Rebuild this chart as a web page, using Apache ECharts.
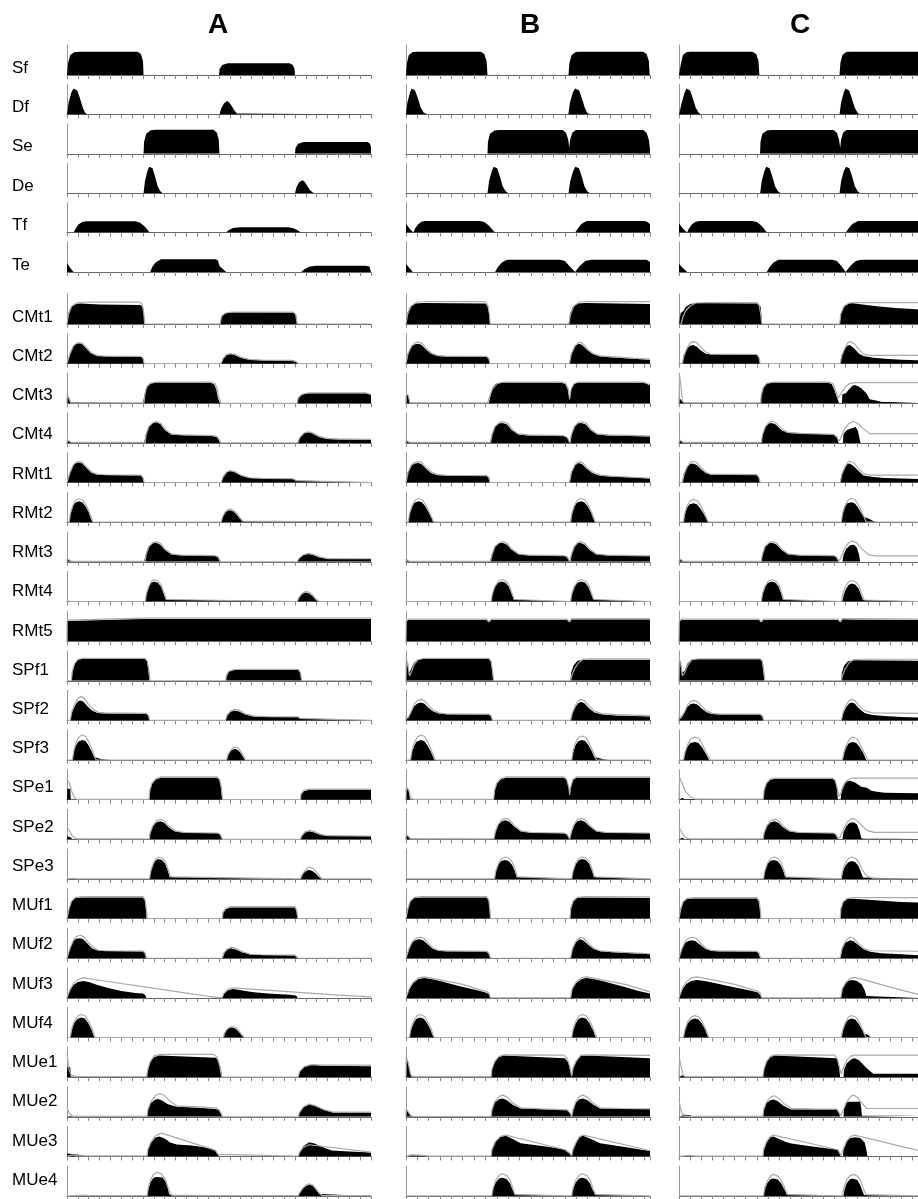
<!DOCTYPE html>
<html><head><meta charset="utf-8">
<script src="https://cdn.jsdelivr.net/npm/echarts@6/dist/echarts.min.js"></script>
<style>html,body{margin:0;padding:0;background:#fff;}#c{width:918px;height:1199px;}</style>
</head><body><div id="c"></div>
<script>
// ---------- labels ----------
const columnNames = ['A', 'B', 'C'];
const phaseRows = ['Sf', 'Df', 'Se', 'De', 'Tf', 'Te'];
const muscleRows = ['CMt1','CMt2','CMt3','CMt4','RMt1','RMt2','RMt3','RMt4','RMt5','SPf1','SPf2','SPf3','SPe1','SPe2','SPe3','MUf1','MUf2','MUf3','MUf4','MUe1','MUe2','MUe3','MUe4'];
const xMax = [28, 21.5, 21.5];   // time axis length (tick units) for A, B, C
const yMax = 30;

// ---------- phase rows (black only) ----------
const Sf_A = [[0,0],[0.1,12],[0.3,20],[0.7,23],[1.2,23.3],[6.5,23.3],[6.8,21],[7.0,14],[7.05,0],[14.0,0],[14.05,6],[14.3,10],[14.8,11.7],[20.5,11.7],[20.8,10],[20.95,6],[21.0,0],[28,0]];
const Sf_B = [[0,0],[0.08,12],[0.25,20],[0.6,23],[1.0,23.3],[6.6,23.3],[6.9,21],[7.1,14],[7.18,0],[14.32,0],[14.4,12],[14.6,20],[14.95,23],[15.3,23.3],[20.9,23.3],[21.2,21],[21.4,14],[21.47,0],[21.5,0]];
const Sf_C = [[0,0],[0.1,0],[0.18,12],[0.35,20],[0.7,23],[1.1,23.3],[6.6,23.3],[6.95,21],[7.15,14],[7.23,0],[14.44,0],[14.52,12],[14.7,20],[15.05,23],[15.4,23.3],[21.5,23.3]];
const Df_A = [[0,0],[0.15,12],[0.4,22],[0.6,26],[0.78,26.6],[0.95,24],[1.2,16],[1.45,7],[1.65,2],[1.86,0],[14.04,0],[14.2,6],[14.45,11],[14.75,13.3],[14.95,12],[15.2,8],[15.45,3.5],[15.65,1],[15.8,0],[28,0]];
const Df_B = [[0,0],[0.12,12],[0.35,22],[0.5,26],[0.62,26.7],[0.8,24],[1.05,16],[1.3,7],[1.55,2],[1.9,0],[14.3,0],[14.45,12],[14.7,22],[14.9,26],[15.06,26.7],[15.25,24],[15.5,16],[15.75,7],[15.95,2],[16.2,0],[21.5,0]];
const Df_C = [[0,0],[0.1,0],[0.25,12],[0.5,22],[0.68,26],[0.82,26.7],[1.0,24],[1.25,16],[1.5,7],[1.75,2],[2.0,0],[14.44,0],[14.58,12],[14.82,22],[14.98,26],[15.1,26.7],[15.3,24],[15.55,16],[15.8,7],[16.05,2],[16.26,0],[21.5,0]];
const Se_A = [[0,0],[7.05,0],[7.1,12],[7.3,20],[7.7,23.5],[8.2,24],[13.5,24],[13.8,21],[13.98,14],[14.04,0],[21.0,0],[21.05,6],[21.3,10],[21.8,11.7],[27.7,11.7],[27.9,10],[28,7]];
const Se_B = [[0,0],[7.18,0],[7.22,12],[7.4,20],[7.8,23.4],[8.2,23.7],[13.8,23.7],[14.1,21],[14.3,14],[14.38,6],[14.46,14],[14.65,21],[14.95,23.7],[20.9,23.7],[21.2,21],[21.4,14],[21.5,5]];
const Se_C = [[0,0],[7.29,0],[7.33,12],[7.5,20],[7.9,23.4],[8.3,23.7],[13.9,23.7],[14.2,21],[14.4,14],[14.5,6],[14.58,14],[14.76,21],[15.06,23.7],[21.5,23.7]];
const De_A = [[0,0],[7.05,0],[7.18,12],[7.4,22],[7.58,26.5],[7.7,27.3],[7.88,25],[8.1,17],[8.35,7],[8.6,2],[8.82,0],[21.0,0],[21.13,6],[21.38,11],[21.66,13],[21.85,12],[22.1,8],[22.35,3.5],[22.6,1],[22.8,0],[28,0]];
const De_B = [[0,0],[7.18,0],[7.32,12],[7.55,22],[7.73,26.5],[7.85,27.3],[8.03,25],[8.27,17],[8.52,7],[8.78,2],[9.03,0],[14.32,0],[14.47,12],[14.72,22],[14.92,26.5],[15.06,27.3],[15.24,25],[15.48,17],[15.72,7],[15.97,2],[16.2,0],[21.5,0]];
const De_C = [[0,0],[7.3,0],[7.44,12],[7.67,22],[7.85,26.5],[7.97,27.3],[8.15,25],[8.39,17],[8.64,7],[8.9,2],[9.15,0],[14.44,0],[14.58,12],[14.82,22],[15.02,26.5],[15.15,27.3],[15.33,25],[15.57,17],[15.82,7],[16.07,2],[16.3,0],[21.5,0]];
const Tf_A = [[0,0],[0.6,0],[0.8,4],[1.05,8],[1.4,10.5],[1.8,11.3],[6.3,11.3],[6.7,10],[7.1,6.5],[7.4,3],[7.6,0],[14.66,0],[14.9,2.5],[15.3,4.5],[15.9,5.3],[20.3,5.3],[20.8,4.5],[21.2,2.5],[21.56,0],[28,0]];
const Tf_B = [[0,9],[0.3,4],[0.65,0],[0.8,4],[1.05,8],[1.35,10.8],[1.7,11.7],[6.5,11.7],[6.9,10.5],[7.3,7],[7.6,3],[7.85,0],[14.9,0],[15.15,4],[15.45,8.5],[15.9,11.7],[21.0,11.7],[21.3,10.5],[21.5,8.3]];
const Tf_C = [[0,9],[0.35,4],[0.73,0],[0.9,4],[1.15,8],[1.5,10.8],[1.85,11.7],[6.6,11.7],[7.0,10.5],[7.4,7],[7.7,3],[7.9,0],[15.0,0],[15.25,4],[15.6,8.5],[16.1,11.7],[21.5,11.7]];
const Te_A = [[0,9],[0.3,4],[0.6,0],[7.66,0],[7.85,5],[8.15,9.5],[8.67,12.7],[13.7,12.7],[13.9,11.5],[14.05,6],[14.35,3],[14.66,0],[21.56,0],[21.9,3],[22.3,5.2],[22.9,6.3],[27.5,6.3],[27.85,5.5],[28,4.5]];
const Te_B = [[0,8.3],[0.3,4],[0.6,0],[7.85,0],[8.1,5],[8.45,9.5],[8.9,12.3],[13.6,12.3],[14.0,11],[14.4,6],[14.9,0],[15.3,6],[15.8,11],[16.3,12.3],[21.2,12.3],[21.5,10]];
const Te_C = [[0,8],[0.35,4],[0.73,0],[7.9,0],[8.15,5],[8.5,9.5],[8.95,12.3],[13.8,12.3],[14.2,11],[14.6,6],[15.0,0],[15.4,6],[15.9,11],[16.4,12.3],[21.5,12.3]];

// ---------- muscle rows: black = recorded, *_line = grey trace ----------
const CMt1_A = [[0,0],[0.1,10],[0.35,17],[0.8,20],[1.3,20.5],[3,19.5],[6.8,19],[7.0,16],[7.1,8],[7.15,0],[14.1,0],[14.2,7],[14.5,10.5],[15.2,11.7],[20.8,11.5],[21.1,9],[21.2,0],[28,0]];
const CMt1_A_line = [[0,0],[0.15,10],[0.45,18],[1.0,21.5],[2,22],[6.7,21.8],[6.95,19],[7.08,10],[7.15,0],[14.1,0],[14.25,8],[14.6,11],[15.2,12],[20.8,11.9],[21.05,10],[21.2,0],[28,0]];
const CMt1_B = [[0,0],[0.1,10],[0.35,17],[0.8,20.5],[1.5,21],[7.0,20.5],[7.25,17],[7.35,8],[7.4,0],[14.35,0],[14.45,10],[14.7,17],[15.1,20.5],[15.8,21],[21.5,20]];
const CMt1_B_line = [[0,0],[0.15,10],[0.45,18],[1.0,22],[2,22.5],[7.0,22.3],[7.2,19],[7.35,10],[7.42,0],[14.35,0],[14.5,10],[14.8,18],[15.3,22],[16,22.5],[21.5,22.3]];
const CMt1_C = [[0,0],[0.1,0],[0.15,11],[0.4,13],[0.6,17],[1.0,20],[1.6,21],[7.1,20.5],[7.35,17],[7.42,8],[7.48,0],[14.45,0],[14.55,10],[14.8,17],[15.2,20],[15.5,21],[16.5,19.5],[18,17.5],[19.5,16],[21,15],[21.5,14.5]];
const CMt1_C_line = [[0,0],[0.2,0],[0.35,7],[0.6,13],[1.0,18],[1.5,21],[2.5,21.3],[7.0,21.3],[7.2,19],[7.35,10],[7.45,0],[14.45,0],[14.55,10],[14.85,18],[15.3,21],[15.8,21.3],[21.5,21.3]];

const CMt2_A = [[0,0],[0.1,0],[0.25,10],[0.55,17],[0.85,20],[1.1,20.5],[1.4,19.5],[1.8,15],[2.2,10.5],[2.7,8],[3.5,7.3],[6.8,7.0],[7.0,5.5],[7.1,0],[14.2,0],[14.35,5],[14.65,8.5],[15.0,9.7],[15.4,9],[16.0,6],[16.8,4],[18,3.3],[20.8,3],[21.1,2],[21.3,0],[22,0],[22.1,0.4],[25,0.4],[25.1,0],[28,0]];
const CMt2_A_line = [[0,0],[0.1,0],[0.28,10],[0.6,18],[0.9,20.5],[1.15,21],[1.45,20],[1.85,15.5],[2.3,10.5],[2.8,8],[3.5,7.5],[6.8,7.3],[7.0,5.5],[7.12,0],[14.2,0],[14.38,5],[14.7,9],[15.05,10],[15.45,9.3],[16.05,6.3],[16.8,4.2],[18,3.5],[20.8,3.2],[21.1,2],[21.3,0],[28,0]];
const CMt2_B = [[0,0],[0.15,10],[0.45,17],[0.8,19.5],[1.06,20],[1.35,19],[1.75,14.5],[2.2,10],[2.7,7.8],[3.5,7.2],[7.1,6.8],[7.3,5],[7.4,0],[14.4,0],[14.55,10],[14.85,17],[15.2,20],[15.5,19],[15.9,14.5],[16.4,10],[17,7.5],[18,6.5],[20,5],[21.5,4]];
const CMt2_B_line = [[0,0],[0.18,10],[0.5,18],[0.85,21],[1.1,21.5],[1.4,20.5],[1.8,15],[2.3,10.2],[2.8,8],[3.5,7.5],[7.1,7.2],[7.3,5],[7.4,0],[14.4,0],[14.58,10],[14.9,18],[15.25,21.5],[15.55,20.5],[15.95,15],[16.5,10],[17.1,7.8],[18,7],[20,5.5],[21.5,4.6]];
const CMt2_C = [[0,0],[0.3,0],[0.4,8],[0.7,15],[1.0,18],[1.27,18.7],[1.6,17],[2.0,13],[2.4,10],[2.8,9.3],[7.0,9],[7.2,6],[7.3,0],[14.5,0],[14.62,8],[14.9,15],[15.15,18],[15.35,18.7],[15.7,16],[16.2,10],[16.6,7.7],[17.5,6],[18.5,5],[20,4],[21.5,3.3]];
const CMt2_C_line = [[0,0],[0.3,0],[0.45,8],[0.75,16],[1.05,21],[1.3,22],[1.6,21],[2.0,16],[2.4,11.5],[2.8,9.5],[7.0,9.2],[7.2,6],[7.3,0],[14.5,0],[14.65,8],[14.95,16],[15.2,21],[15.4,22],[15.75,20],[16.2,14],[16.6,9.5],[17.2,8.3],[21.5,8.3]];

const CMt3_A = [[0,0],[0.02,9.7],[0.2,9],[0.35,1],[0.5,0.3],[7.0,0.3],[7.1,0],[7.13,8],[7.3,16],[7.6,19.5],[8.2,20.7],[13.2,20.5],[13.55,19],[13.75,14],[13.9,5],[14.1,0],[21.2,0],[21.3,5],[21.6,8.5],[22.2,10],[27.5,10],[27.8,9],[28,8.5]];
const CMt3_A_line = [[0,0],[0.02,9],[0.2,8],[0.35,0.5],[7.1,0.5],[7.15,8],[7.35,16.5],[7.7,20.2],[8.3,21.3],[13.3,21.2],[13.65,19.5],[13.85,14],[14.0,5],[14.2,0],[21.2,0],[21.3,5.5],[21.65,9],[22.3,10.5],[27.5,10.5],[27.8,9.5],[28,9]];
const CMt3_B = [[0,0],[0.02,9],[0.2,8],[0.35,0.5],[7.3,0.3],[7.4,0],[7.45,8],[7.6,15],[7.9,19.5],[8.4,20.7],[13.7,20.5],[14.05,19],[14.25,14],[14.42,3],[14.55,14],[14.75,19],[15.1,20.7],[20.9,20.5],[21.2,19.5],[21.5,18]];
const CMt3_B_line = [[0,0],[0.02,9],[0.2,8],[0.35,0.5],[7.2,0.5],[7.35,6],[7.6,14],[8.0,19.5],[8.6,21.3],[13.8,21.2],[14.1,19.5],[14.3,14],[14.42,4],[14.55,14],[14.8,19.5],[15.2,21.3],[20.9,21.2],[21.2,20],[21.5,18.5]];
const CMt3_C = [[0,0],[0.05,5],[0.2,3],[0.4,0.5],[7.35,0.3],[7.38,8],[7.55,15],[7.85,19.5],[8.4,20.7],[13.4,20.5],[13.75,19],[13.95,14],[14.15,8],[14.4,0],[14.65,0],[14.7,9],[15.0,10],[15.3,14],[15.6,17.5],[15.83,18.3],[16.1,17],[16.4,15],[16.85,10],[17.15,4],[17.7,2.7],[18.3,1.3],[21.5,1]];
const CMt3_C_line = [[0,0],[0.05,28],[0.15,20],[0.3,2],[0.5,0.5],[7.35,0.5],[7.4,8],[7.6,16],[7.9,20],[8.5,21.2],[13.5,21.2],[13.85,19.5],[14.05,14],[14.3,5],[14.45,5],[14.7,12],[15.0,17],[15.4,20],[15.9,20.7],[21.5,20.7]];

const CMt4_A = [[0,0],[0.02,3],[0.2,1],[0.4,0.3],[7.1,0.3],[7.2,0],[7.25,8],[7.5,16],[7.9,20],[8.2,20.7],[8.6,19],[9.0,13],[9.6,8.5],[10.5,7.8],[13.4,7],[13.8,6],[14.0,3],[14.1,0],[21.25,0],[21.4,5],[21.8,9.5],[22.2,10.7],[22.6,9.5],[23.2,6],[23.9,4],[25,3.5],[28,3.2]];
const CMt4_A_line = [[0,0],[0.02,3],[0.2,1],[0.4,0.5],[7.2,0.5],[7.28,8],[7.55,16.5],[7.95,20.5],[8.25,21.3],[8.65,19.5],[9.05,13.5],[9.6,9],[10.5,8],[13.4,7.3],[13.8,6.3],[14.05,3],[14.15,0],[21.25,0],[21.42,5],[21.85,10],[22.25,11.2],[22.65,10],[23.25,6.5],[23.9,4.5],[25,4],[28,3.6]];
const CMt4_B = [[0,0],[0.02,3],[0.2,1],[0.4,0.3],[7.4,0.3],[7.5,0],[7.55,8],[7.8,16],[8.2,19.5],[8.5,20],[8.9,18.5],[9.3,13],[9.9,8.5],[10.8,7.5],[13.9,6.8],[14.2,5.5],[14.45,0],[14.55,8],[14.8,16],[15.15,19.5],[15.45,20],[15.85,18.5],[16.25,13],[16.85,8.5],[17.8,7.5],[21.5,6.5]];
const CMt4_B_line = [[0,0],[0.02,3],[0.2,1],[0.4,0.5],[7.45,0.5],[7.58,8],[7.85,16.5],[8.25,20.5],[8.55,21.2],[8.95,19.5],[9.35,13.5],[9.9,9],[10.8,8],[13.9,7.2],[14.2,5.7],[14.45,0],[14.57,8],[14.85,16.5],[15.2,20.5],[15.5,21.2],[15.9,19.5],[16.3,13.5],[16.85,9],[17.8,8],[21.5,7]];
const CMt4_C = [[0,0],[0.05,3],[0.2,1],[0.4,0.3],[7.4,0.3],[7.44,0],[7.5,8],[7.75,16],[8.1,19.5],[8.33,20],[8.7,18.5],[9.2,13],[9.8,10],[11,9.3],[13.9,8.3],[14.2,6],[14.36,0],[14.74,0],[14.8,9],[15.1,13],[15.5,14.5],[15.9,16],[16.1,12],[16.33,0],[21.5,0]];
const CMt4_C_line = [[0,0],[0.05,3],[0.2,1],[0.4,0.5],[7.42,0.5],[7.5,8],[7.78,16.5],[8.1,20.5],[8.4,21.7],[8.75,19.5],[9.25,14],[9.8,10.5],[11,9.6],[13.9,8.6],[14.2,6],[14.4,2],[14.55,5],[14.85,13],[15.25,19],[15.68,21.7],[16.1,19.5],[16.6,14],[17.15,9.3],[21.5,9.3]];

const RMt1_A = [[0,0],[0.1,0],[0.25,10],[0.55,17],[0.85,19.5],[1.1,20],[1.4,19],[1.8,14.5],[2.2,10],[2.7,8],[3.5,7.5],[6.8,7.2],[7.0,5],[7.1,0],[14.2,0],[14.35,5.5],[14.65,10],[15.0,11.5],[15.4,10.5],[16.0,7],[16.8,4.5],[18,4],[20.8,3.7],[21.1,2],[21.25,0],[28,0]];
const RMt1_A_line = [[0,0],[0.1,0],[0.28,10],[0.6,18],[0.9,20.5],[1.15,21],[1.45,20],[1.85,15],[2.3,10.5],[2.8,8.3],[3.5,7.8],[6.8,7.5],[7.0,5],[7.12,0],[14.2,0],[14.38,5.5],[14.7,10.5],[15.05,12],[15.45,11],[16.05,7.3],[16.8,4.8],[18,4.2],[20.8,3.9],[21.1,2],[21.25,0],[28,0]];
const RMt1_B = [[0,0],[0.15,10],[0.45,17],[0.8,19],[1.06,19.5],[1.35,18.5],[1.75,14],[2.2,9.5],[2.7,7.5],[3.5,7],[7.1,6.8],[7.3,5],[7.4,0],[14.4,0],[14.55,10],[14.85,17],[15.2,19.5],[15.5,18.5],[15.9,14],[16.4,9.5],[17,7],[18,6],[20,5],[21.5,4]];
const RMt1_B_line = [[0,0],[0.18,10],[0.5,18],[0.85,20.5],[1.1,21],[1.4,20],[1.8,14.5],[2.3,10],[2.8,8],[3.5,7.3],[7.1,7],[7.3,5],[7.4,0],[14.4,0],[14.58,10],[14.9,18],[15.25,21],[15.55,20],[15.95,14.5],[16.5,10],[17.1,7.5],[18,6.5],[20,5.3],[21.5,4.4]];
const RMt1_C = [[0,0],[0.3,0],[0.4,8],[0.7,15],[1.0,18.5],[1.25,19],[1.6,17.5],[2.0,13],[2.4,9.5],[2.8,8],[7.0,7.5],[7.2,5],[7.3,0],[14.5,0],[14.62,8],[14.9,15],[15.15,18.5],[15.35,19],[15.7,16.5],[16.2,11],[16.6,7],[17.5,5.5],[18.5,4.5],[20,4],[21.5,3.5]];
const RMt1_C_line = [[0,0],[0.3,0],[0.45,8],[0.75,16],[1.05,20.5],[1.3,21.3],[1.6,20],[2.0,15],[2.4,10.5],[2.8,8.5],[7.0,8],[7.2,5],[7.3,0],[14.5,0],[14.65,8],[14.95,16],[15.2,20.5],[15.4,21.3],[15.75,19.5],[16.2,13.5],[16.6,9],[17.2,7.5],[21.5,7.5]];

const RMt2_A = [[0,0],[0.2,0],[0.3,8],[0.5,15],[0.75,19.5],[1.1,21],[1.4,20],[1.7,16],[2.0,10],[2.2,4],[2.35,0],[14.2,0],[14.32,5],[14.55,9.5],[14.8,11.5],[15.0,12],[15.3,11],[15.6,8],[15.9,4],[16.15,1],[16.3,0],[28,0]];
const RMt2_A_line = [[0,0],[0.2,0],[0.32,9],[0.55,17],[0.8,22],[1.1,23.5],[1.45,22],[1.75,17],[2.05,10],[2.25,4],[2.4,0],[14.2,0],[14.34,5.5],[14.58,10.5],[14.85,12.8],[15.05,13.2],[15.35,12],[15.65,8.5],[15.95,4],[16.2,1],[16.35,0],[28,0]];
const RMt2_B = [[0,0],[0.2,0],[0.3,8],[0.5,15],[0.75,19.5],[1.1,21],[1.4,20],[1.7,16],[2.0,10],[2.25,4],[2.4,0],[14.5,0],[14.6,8],[14.8,15],[15.05,19.5],[15.4,21],[15.7,20],[16.0,16],[16.3,10],[16.5,4],[16.65,0],[21.5,0]];
const RMt2_B_line = [[0,0],[0.2,0],[0.32,9],[0.55,17],[0.8,22],[1.1,24],[1.45,22.5],[1.75,17],[2.05,10],[2.3,4],[2.45,0],[14.5,0],[14.62,9],[14.85,17],[15.1,22],[15.4,24],[15.75,22.5],[16.05,17],[16.35,10],[16.55,4],[16.7,0],[21.5,0]];
const RMt2_C = [[0,0],[0.4,0],[0.5,7],[0.7,14],[0.95,18],[1.3,19],[1.6,18],[1.9,14],[2.2,9],[2.45,3.5],[2.6,0],[14.6,0],[14.7,8],[14.9,15],[15.15,19],[15.5,20],[15.8,19],[16.1,15],[16.4,9],[16.7,5],[17.1,3.5],[17.5,1],[17.8,0],[21.5,0]];
const RMt2_C_line = [[0,0],[0.4,0],[0.52,9],[0.75,17],[1.0,21.5],[1.3,23],[1.65,21.5],[1.95,16.5],[2.25,10],[2.5,4],[2.65,0],[14.6,0],[14.72,9],[14.95,17],[15.2,22],[15.5,24],[15.85,22.5],[16.15,17],[16.45,10],[16.7,4],[16.85,0],[21.5,0]];

const RMt3_A = [[0,0],[0.02,3],[0.2,1],[0.4,0.3],[7.1,0.3],[7.2,0],[7.25,7],[7.5,15],[7.9,18.5],[8.2,19],[8.6,17],[9.0,12],[9.6,7.5],[10.5,6.5],[13.6,6],[13.9,5],[14.1,0],[21.2,0],[21.35,3],[21.7,6.5],[22.2,8],[22.6,7],[23.2,4.5],[24,3],[28,2.8]];
const RMt3_A_line = [[0,0],[0.02,3],[0.2,1],[0.4,0.5],[7.2,0.5],[7.28,7],[7.55,15.5],[7.95,19.5],[8.25,20],[8.65,18],[9.05,12.5],[9.6,8],[10.5,6.8],[13.6,6.3],[13.9,5],[14.15,0],[21.2,0],[21.37,3.5],[21.75,7],[22.25,8.5],[22.65,7.5],[23.25,5],[24,3.3],[28,3.1]];
const RMt3_B = [[0,0],[0.02,3],[0.2,1],[0.4,0.3],[7.4,0.3],[7.5,0],[7.55,7],[7.8,15],[8.2,18.5],[8.5,19],[8.9,17],[9.3,12],[9.9,7.5],[10.8,6.5],[13.9,6],[14.2,5],[14.45,0],[14.55,7],[14.8,15],[15.1,18.5],[15.35,19],[15.75,17],[16.15,12],[16.75,7.5],[17.7,6.5],[21.5,5.8]];
const RMt3_B_line = [[0,0],[0.02,3],[0.2,1],[0.4,0.5],[7.45,0.5],[7.58,7],[7.85,15.5],[8.25,19.5],[8.55,20.3],[8.95,18],[9.35,12.5],[9.9,8],[10.8,6.8],[13.9,6.3],[14.2,5],[14.45,0],[14.57,7],[14.85,15.5],[15.15,19.5],[15.4,20.3],[15.8,18],[16.2,12.5],[16.75,8],[17.7,6.8],[21.5,6]];
const RMt3_C = [[0,0],[0.05,3],[0.2,1],[0.4,0.3],[7.38,0.3],[7.42,0],[7.48,7],[7.72,15],[8.1,18.5],[8.4,19],[8.8,17],[9.2,12],[9.8,7.5],[10.8,6.5],[13.9,6],[14.15,5],[14.35,0],[14.7,0],[14.8,7],[15.05,13],[15.4,16.5],[15.75,17],[16.0,14],[16.2,7],[16.3,0],[21.5,0]];
const RMt3_C_line = [[0,0],[0.05,3],[0.2,1],[0.4,0.5],[7.4,0.5],[7.5,7],[7.75,15.5],[8.15,19.5],[8.45,20.3],[8.85,18],[9.25,12.5],[9.8,8],[10.8,6.8],[13.9,6.3],[14.15,5],[14.38,1],[14.55,4],[14.85,12],[15.2,18.5],[15.6,21],[16.0,19],[16.5,12.5],[17.0,7.5],[17.6,6],[21.5,6]];

const RMt4_A = [[0,0],[0.02,2],[0.2,0.5],[0.4,0],[7.2,0],[7.3,7],[7.5,14],[7.75,18.5],[8.0,20],[8.35,19],[8.65,15],[8.9,8],[9.1,2],[9.2,0],[21.2,0],[21.32,3],[21.55,6.5],[21.8,8.5],[22.0,9],[22.3,8],[22.6,5.5],[22.9,2],[23.2,0],[28,0]];
const RMt4_A_line = [[0,0],[0.02,2],[0.2,0.5],[0.4,0],[7.2,0],[7.32,8],[7.55,15.5],[7.8,20.5],[8.05,22],[8.4,20.5],[8.7,16],[8.95,8],[9.15,2],[9.25,0],[21.2,0],[21.34,3.5],[21.58,7],[21.85,9.5],[22.05,10],[22.35,9],[22.65,6],[22.95,2],[23.25,0],[28,0]];
const RMt4_B = [[0,0],[7.5,0],[7.6,7],[7.8,14],[8.1,18.5],[8.4,20],[8.75,19],[9.05,15],[9.3,8],[9.5,2],[9.6,0],[14.5,0],[14.6,7],[14.8,14],[15.1,18.5],[15.4,20],[15.75,19],[16.05,15],[16.3,8],[16.5,2],[16.6,0],[21.5,0]];
const RMt4_B_line = [[0,0],[7.5,0],[7.62,8],[7.85,15.5],[8.15,20.5],[8.45,22],[8.8,20.5],[9.1,16],[9.35,8],[9.55,2],[9.65,0],[14.5,0],[14.62,8],[14.85,15.5],[15.15,20.5],[15.45,22],[15.8,20.5],[16.1,16],[16.35,8],[16.55,2],[16.65,0],[21.5,0]];
const RMt4_C = [[0,0],[7.4,0],[7.5,7],[7.7,14],[8.0,18.5],[8.3,20],[8.65,19],[8.95,15],[9.2,8],[9.35,2],[9.45,0],[14.7,0],[14.8,6],[15.0,12],[15.25,16.5],[15.5,18],[15.85,17],[16.15,13],[16.4,6],[16.55,1.5],[16.65,0],[21.5,0]];
const RMt4_C_line = [[0,0],[7.4,0],[7.52,8],[7.75,15.5],[8.05,20.5],[8.35,22],[8.7,20.5],[9.0,16],[9.25,8],[9.4,2],[9.5,0],[14.6,0],[14.72,7],[14.95,14.5],[15.25,19.5],[15.55,21],[15.9,19.5],[16.2,15],[16.45,7],[16.65,1.5],[16.75,0],[21.5,0]];

const RMt5_A = [[0,0],[0.02,20],[0.2,22],[7.0,22],[7.1,20.5],[7.2,22],[14.0,22],[14.1,20.5],[14.2,22],[21.0,22],[21.1,20.5],[21.2,22],[28,22]];
const RMt5_A_line = [[0,0],[0.02,21],[0.2,23],[7.0,23],[7.1,21],[7.2,23],[14.0,23],[14.1,21],[14.2,23],[21.0,23],[21.1,21],[21.2,23],[28,23]];
const RMt5_B = [[0,0],[0.02,19],[0.2,21],[7.1,21],[7.3,18.5],[7.5,21],[14.2,21],[14.4,18.5],[14.6,21.5],[21.5,21.5]];
const RMt5_B_line = [[0,0],[0.02,20],[0.2,22],[7.1,22],[7.3,19.5],[7.5,22],[14.2,22],[14.4,19.5],[14.6,22.5],[21.5,22.5]];
const RMt5_C = [[0,0],[0.02,19],[0.2,21],[7.2,21],[7.4,18.5],[7.6,21],[14.3,21],[14.5,18.5],[14.7,22],[15.5,21.5],[21.5,21]];
const RMt5_C_line = [[0,0],[0.02,20],[0.2,22],[7.2,22],[7.4,19.5],[7.6,22],[14.3,22],[14.5,19.5],[14.7,22.5],[21.5,22]];

const SPf1_A = [[0,0],[0.45,0],[0.5,10],[0.7,17],[1.0,21],[1.5,22],[7.2,22],[7.4,19],[7.5,10],[7.6,0],[8.0,0],[8.1,1],[8.3,0],[14.65,0],[14.7,5],[14.9,9],[15.3,10.5],[15.8,11],[21.3,11],[21.5,8],[21.6,0],[28,0]];
const SPf1_A_line = [[0,0],[0.4,0],[0.48,9],[0.7,17],[1.0,21.5],[1.5,22.5],[7.2,22.5],[7.4,19.5],[7.55,10],[7.65,0],[14.6,0],[14.68,5],[14.9,9.5],[15.3,11],[15.8,11.5],[21.3,11.5],[21.5,8],[21.62,0],[28,0]];
const SPf1_B = [[0,0],[0.02,20],[0.15,18],[0.3,8],[0.45,10],[0.65,17],[1.0,21],[1.6,22],[7.3,22],[7.5,19],[7.6,10],[7.7,0],[14.5,0],[14.55,8],[14.75,15],[15.1,20],[15.6,21],[21.5,21]];
const SPf1_B_line = [[0,0],[0.02,22],[0.15,18],[0.3,5],[0.45,8],[0.7,16],[1.05,21],[1.6,22.5],[7.3,22.5],[7.5,19.5],[7.62,10],[7.72,0],[14.5,0],[14.6,5],[14.85,12],[15.2,18],[15.6,21.5],[16.2,22],[21.5,22]];
const SPf1_C = [[0,0],[0.02,21],[0.15,18],[0.3,8],[0.5,10],[0.75,17],[1.1,21],[1.7,21.5],[7.3,21.5],[7.5,19],[7.6,10],[7.7,0],[8.0,0],[8.1,1.5],[8.4,0],[14.6,0],[14.65,8],[14.85,15],[15.2,19.5],[15.7,20.5],[21.5,20]];
const SPf1_C_line = [[0,0],[0.02,22],[0.15,18],[0.3,5],[0.5,8],[0.8,16],[1.15,21],[1.7,22],[7.3,22],[7.5,19.5],[7.62,10],[7.72,0],[14.6,0],[14.7,5],[14.95,12],[15.3,18],[15.7,21],[16.3,21.5],[21.5,21.5]];

const SPf2_A = [[0,0],[0.3,0],[0.45,8],[0.75,15],[1.0,19],[1.2,20],[1.5,19],[1.9,14],[2.3,10],[2.8,7.5],[3.5,7],[7.3,6.8],[7.5,5],[7.6,0],[14.6,0],[14.75,5],[15.05,8.5],[15.45,10],[15.85,9],[16.4,6],[17.2,4],[18.5,3.5],[21.3,3.3],[21.5,2],[21.6,0],[28,0]];
const SPf2_A_line = [[0,0],[0.3,0],[0.45,9],[0.75,17],[1.0,22],[1.25,24],[1.55,22.5],[1.95,16.5],[2.4,11],[2.9,8],[3.5,7.5],[7.3,7],[7.5,5],[7.62,0],[14.6,0],[14.76,5.5],[15.08,9.5],[15.5,11],[15.9,10],[16.45,6.5],[17.2,4.3],[18.5,3.8],[21.3,3.5],[21.5,2],[21.62,0],[28,0]];
const SPf2_B = [[0,0],[0.02,5],[0.15,2],[0.25,1],[0.4,7],[0.7,14],[1.0,17],[1.3,18],[1.6,17],[2.0,12.5],[2.4,9],[2.9,6.8],[3.6,6.2],[7.3,6],[7.5,4.5],[7.6,0],[14.5,0],[14.65,7],[14.95,14],[15.2,17.5],[15.4,18.5],[15.7,17.5],[16.1,12.5],[16.6,8],[17.3,6],[18.5,5],[21.5,4]];
const SPf2_B_line = [[0,0],[0.02,5],[0.15,2],[0.25,1],[0.42,8],[0.72,16],[1.02,20],[1.32,21],[1.65,19.5],[2.05,14],[2.5,9.5],[3.0,7.2],[3.6,6.6],[7.3,6.3],[7.5,4.5],[7.62,0],[14.5,0],[14.67,8],[14.97,16],[15.22,20],[15.45,21],[15.75,19.5],[16.15,14],[16.65,9],[17.3,6.7],[18.5,5.8],[21.5,4.8]];
const SPf2_C = [[0,0],[0.02,5],[0.15,2],[0.3,1],[0.45,7],[0.75,13.5],[1.05,16.5],[1.3,17],[1.65,16],[2.05,12],[2.45,8.5],[2.9,6.5],[3.6,6],[7.3,5.8],[7.5,4.5],[7.6,0],[14.6,0],[14.75,7],[15.05,13.5],[15.3,17],[15.5,18],[15.8,17],[16.2,12],[16.7,7.5],[17.4,5.5],[18.5,4.5],[20,3.5],[21.5,3]];
const SPf2_C_line = [[0,0],[0.02,6],[0.15,2],[0.3,1],[0.47,8],[0.77,15.5],[1.07,19],[1.32,20],[1.7,18.5],[2.1,13.5],[2.5,9.5],[3.0,7],[3.6,6.5],[7.3,6.2],[7.5,4.5],[7.62,0],[14.6,0],[14.77,8],[15.07,16],[15.32,20],[15.55,21],[15.85,19.5],[16.25,14],[16.75,9.5],[17.4,7.5],[21.5,7]];

const SPf3_A = [[0,0],[0.5,0],[0.6,7],[0.8,14],[1.05,18.5],[1.4,20],[1.7,19],[2.0,14.5],[2.3,8],[2.5,3],[2.6,1],[3.2,0.8],[4.0,0],[14.7,0],[14.8,4],[15.0,8],[15.25,10.5],[15.5,11],[15.75,10],[16.0,7],[16.25,2.5],[16.4,0],[28,0]];
const SPf3_A_line = [[0,0],[0.5,0],[0.62,9],[0.85,17.5],[1.1,23],[1.4,25],[1.75,23.5],[2.05,17],[2.35,9],[2.55,3],[2.7,0],[14.7,0],[14.82,5],[15.05,9.5],[15.3,12.5],[15.55,13],[15.8,12],[16.05,8],[16.3,3],[16.45,0],[28,0]];
const SPf3_B = [[0,0],[0.4,0],[0.5,7],[0.7,14],[0.95,18.5],[1.3,20],[1.6,19],[1.9,14.5],[2.2,8],[2.4,3],[2.5,0],[14.6,0],[14.7,7],[14.9,14],[15.15,18.5],[15.5,20],[15.8,19],[16.1,14.5],[16.4,8],[16.6,3],[16.7,1],[17.5,0.5],[18,0],[21.5,0]];
const SPf3_B_line = [[0,0],[0.4,0],[0.52,9],[0.75,17.5],[1.0,23],[1.3,25],[1.65,23.5],[1.95,17],[2.25,9],[2.45,3],[2.6,0],[14.6,0],[14.72,9],[14.95,17.5],[15.2,22.5],[15.5,24],[15.85,22.5],[16.15,16.5],[16.45,9],[16.65,3],[16.8,0],[21.5,0]];
const SPf3_C = [[0,0],[0.4,0],[0.52,7],[0.75,13],[1.0,17],[1.4,18],[1.75,17],[2.05,13],[2.35,7.5],[2.6,2.5],[2.7,0],[14.7,0],[14.82,7],[15.05,13],[15.3,17],[15.6,18],[15.95,17],[16.25,13],[16.55,7.5],[16.75,2.5],[16.85,0],[21.5,0]];
const SPf3_C_line = [[0,0],[0.4,0],[0.55,8],[0.8,16],[1.05,21],[1.4,23],[1.8,21.5],[2.1,15.5],[2.4,8.5],[2.65,3],[2.8,0],[14.7,0],[14.85,8],[15.1,16],[15.35,21],[15.6,23],[16.0,21.5],[16.3,15.5],[16.6,8.5],[16.85,3],[17.0,0],[21.5,0]];

const SPe1_A = [[0,0],[0.02,11],[0.3,11],[0.35,0],[7.6,0],[7.65,9],[7.85,16],[8.2,20.5],[8.7,22],[13.8,22],[14.05,20],[14.2,12],[14.3,0],[21.5,0],[21.55,5],[21.8,8.5],[22.3,10],[28,10]];
const SPe1_A_line = [[0,21],[0.2,17],[0.45,8],[0.7,2],[0.9,0.3],[7.55,0.3],[7.62,9],[7.82,16.5],[8.2,21],[8.7,22.8],[13.8,22.8],[14.05,20.5],[14.22,12],[14.33,0],[21.5,0],[21.55,5.5],[21.8,9],[22.3,10.5],[28,10.5]];
const SPe1_B = [[0,0],[0.02,12],[0.25,10],[0.35,0],[7.75,0],[7.8,9],[8.0,16],[8.35,20.5],[8.85,22],[13.9,22],[14.15,20],[14.35,12],[14.42,4],[14.5,12],[14.7,20],[15.05,22],[21.5,22]];
const SPe1_B_line = [[0,0],[0.02,13],[0.25,9],[0.45,1],[0.7,0.3],[7.72,0.3],[7.8,9],[8.0,16.5],[8.35,21],[8.85,22.8],[13.9,22.8],[14.15,20.5],[14.35,12],[14.42,5],[14.5,12],[14.72,20.5],[15.05,22.8],[21.5,22.8]];
const SPe1_C = [[0,0],[0.05,2],[0.3,2],[0.5,0.5],[1.5,0.5],[1.6,0],[7.6,0],[7.65,9],[7.85,16],[8.2,20],[8.7,21],[13.8,21],[14.05,19],[14.2,11],[14.3,0],[14.55,0],[14.6,10],[14.9,17],[15.3,19],[15.7,18],[16.0,16],[16.4,13],[16.9,12],[17.3,9],[17.8,8],[18.5,7],[21.5,6.5]];
const SPe1_C_line = [[0,0],[0.05,22],[0.3,16],[0.6,8],[1.0,3],[1.5,0.5],[7.58,0.5],[7.65,9],[7.87,16.5],[8.2,20.5],[8.7,21.7],[13.8,21.7],[14.05,19.5],[14.25,11],[14.4,3],[14.55,6],[14.8,14],[15.1,19.5],[15.5,21.5],[21.5,21.5]];

const SPe2_A = [[0,0],[0.02,3],[0.3,2],[0.5,0.3],[7.55,0.3],[7.6,0],[7.65,6],[7.9,13],[8.25,17],[8.6,18],[8.95,16.5],[9.35,12],[9.9,8],[10.8,6.5],[13.9,6],[14.1,5],[14.3,0],[21.5,0],[21.6,3],[21.9,6.5],[22.3,8],[22.7,7],[23.3,4.5],[24,3.3],[28,3]];
const SPe2_A_line = [[0,12],[0.2,9],[0.45,4],[0.75,1],[1.0,0.4],[7.58,0.4],[7.65,6],[7.92,14],[8.28,19],[8.65,20],[9.0,18],[9.4,13],[9.95,8.5],[10.8,6.8],[13.9,6.3],[14.1,5],[14.32,0],[21.5,0],[21.62,3.5],[21.92,7.5],[22.33,9],[22.75,8],[23.35,5],[24,3.6],[28,3.3]];
const SPe2_B = [[0,0],[0.02,5],[0.2,3],[0.4,0.5],[7.75,0.3],[7.8,0],[7.85,7],[8.1,14],[8.45,18],[8.75,19],[9.1,17.5],[9.5,13],[10.1,8],[11,6.5],[13.9,6],[14.2,5],[14.42,0],[14.55,7],[14.8,14],[15.1,18],[15.4,19],[15.75,17.5],[16.15,13],[16.75,8],[17.6,6.5],[21.5,6]];
const SPe2_B_line = [[0,0],[0.02,5],[0.2,3],[0.4,0.5],[7.75,0.4],[7.87,7],[8.12,15],[8.48,20],[8.78,21],[9.12,19.5],[9.52,14],[10.1,8.5],[11,6.8],[13.9,6.3],[14.2,5],[14.42,0],[14.57,7],[14.82,15],[15.12,20],[15.42,21],[15.78,19.5],[16.18,14],[16.75,8.5],[17.6,6.8],[21.5,6.3]];
const SPe2_C = [[0,0],[0.05,2],[0.3,1.5],[0.5,0.3],[7.55,0.3],[7.6,0],[7.65,6],[7.9,13],[8.25,17],[8.6,18],[8.95,16.5],[9.35,12],[9.9,8],[10.8,6.5],[13.9,6],[14.1,5],[14.3,0],[14.7,0],[14.8,7],[15.05,13],[15.35,16.5],[15.7,17],[16.0,15],[16.25,8],[16.4,1],[16.6,0.5],[21.5,0.5]];
const SPe2_C_line = [[0,12],[0.2,8],[0.45,3],[0.8,0.8],[1.2,0.4],[7.58,0.4],[7.65,6],[7.92,14],[8.28,19],[8.65,20],[9.0,18],[9.4,13],[9.95,8.5],[10.8,6.8],[13.9,6.3],[14.1,5],[14.32,1],[14.5,2],[14.8,10],[15.15,17.5],[15.6,21],[16.0,19],[16.5,13],[17.0,8.5],[17.6,7],[21.5,7]];

const SPe3_A = [[0,0],[0.02,1],[0.5,0.5],[1,0],[7.6,0],[7.7,7],[7.9,14],[8.15,18.5],[8.4,20],[8.75,19],[9.05,15],[9.3,8],[9.45,2],[9.55,0],[21.5,0],[21.62,3],[21.85,6.5],[22.1,8.5],[22.3,9],[22.6,8],[22.9,5.5],[23.2,2],[23.45,0],[28,0]];
const SPe3_A_line = [[0,0],[0.02,1],[0.5,0.5],[1,0],[7.6,0],[7.72,8],[7.95,15.5],[8.2,20.5],[8.45,22],[8.8,20.5],[9.1,16],[9.35,8],[9.55,2],[9.65,0],[21.5,0],[21.64,4],[21.9,8],[22.15,11],[22.35,12],[22.65,10.5],[22.95,7],[23.25,3],[23.5,0],[28,0]];
const SPe3_B = [[0,0],[7.8,0],[7.9,7],[8.1,14],[8.4,18],[8.7,19],[9.05,18],[9.35,14],[9.6,7.5],[9.75,2],[9.85,0],[14.6,0],[14.7,7],[14.9,14],[15.2,18.5],[15.5,20],[15.85,19],[16.15,15],[16.4,8],[16.55,2],[16.65,0],[21.5,0]];
const SPe3_B_line = [[0,0],[7.8,0],[7.92,8],[8.15,15.5],[8.45,20.5],[8.75,22],[9.1,20.5],[9.4,16],[9.65,8],[9.82,2],[9.92,0],[14.6,0],[14.72,8],[14.95,15.5],[15.25,20.5],[15.55,22],[15.9,20.5],[16.2,16],[16.45,8],[16.62,2],[16.72,0],[21.5,0]];
const SPe3_C = [[0,0],[7.6,0],[7.7,7],[7.9,14],[8.2,18],[8.5,19],[8.85,18],[9.15,14],[9.4,7.5],[9.55,2],[9.65,0],[14.6,0],[14.7,6],[14.9,12],[15.2,16.5],[15.5,18],[15.85,17],[16.15,13],[16.4,6],[16.55,1.5],[16.65,0],[21.5,0]];
const SPe3_C_line = [[0,0],[7.6,0],[7.72,8],[7.95,15.5],[8.25,20.5],[8.55,22],[8.9,20.5],[9.2,16],[9.45,8],[9.62,2],[9.72,0],[14.6,0],[14.72,8],[14.95,15.5],[15.25,20.5],[15.55,22],[15.9,20.5],[16.2,16],[16.5,9],[16.8,4],[17.2,1.5],[17.6,0],[21.5,0]];

const MUf1_A = [[0,0],[0.15,0],[0.2,10],[0.4,17],[0.75,20.5],[1.3,21],[7.0,21],[7.2,18],[7.3,8],[7.35,0],[14.3,0],[14.35,6],[14.6,9.5],[15.1,11],[21.0,11],[21.15,8],[21.25,0],[28,0]];
const MUf1_A_line = [[0,0],[0.12,0],[0.2,10],[0.42,17.5],[0.8,21.3],[1.4,22],[7.0,22],[7.2,18.5],[7.32,8],[7.38,0],[14.3,0],[14.37,6],[14.62,10],[15.1,12],[21.0,12],[21.15,8],[21.27,0],[28,0]];
const MUf1_B = [[0,0],[0.1,0],[0.15,10],[0.35,17],[0.7,20.5],[1.3,21],[7.1,21],[7.3,18],[7.38,8],[7.42,0],[14.45,0],[14.5,10],[14.7,17],[15.05,20.5],[15.6,21],[21.5,20.5]];
const MUf1_B_line = [[0,0],[0.1,0],[0.17,10],[0.38,17.5],[0.75,21.3],[1.4,22],[7.1,22],[7.3,18.5],[7.4,8],[7.45,0],[14.45,0],[14.52,10],[14.73,17.5],[15.1,21.3],[15.7,22],[21.5,21.8]];
const MUf1_C = [[0,0],[0.1,0],[0.15,10],[0.35,16.5],[0.7,19.5],[1.3,20],[7.0,20],[7.2,17],[7.3,8],[7.35,0],[14.5,0],[14.55,10],[14.75,16.5],[15.2,20],[16,19.5],[18,18],[20,16.5],[21.5,16]];
const MUf1_C_line = [[0,0],[0.1,0],[0.17,10],[0.38,17],[0.75,20.3],[1.4,21],[7.0,21],[7.2,18],[7.32,8],[7.38,0],[14.5,0],[14.57,10],[14.78,17],[15.15,20.3],[15.8,21],[21.5,21]];

const MUf2_A = [[0,0],[0.1,0],[0.25,10],[0.55,17],[0.85,19.5],[1.2,20],[1.5,19],[1.9,14.5],[2.3,10],[2.8,7.7],[3.5,7.2],[7.0,7],[7.2,5],[7.3,0],[14.3,0],[14.45,5],[14.75,8.5],[15.1,10],[15.5,9],[16.1,6],[16.9,3.8],[18,3.3],[21.0,3],[21.15,2],[21.25,0],[28,0]];
const MUf2_A_line = [[0,0],[0.1,0],[0.28,10],[0.6,18],[0.92,22],[1.25,23],[1.55,21.5],[1.95,16],[2.4,11],[2.9,8],[3.5,7.5],[7.0,7.2],[7.2,5],[7.32,0],[14.3,0],[14.47,5.5],[14.78,9.5],[15.15,11],[15.55,10],[16.15,6.5],[16.9,4],[18,3.5],[21.0,3.2],[21.15,2],[21.27,0],[28,0]];
const MUf2_B = [[0,0],[0.1,0],[0.25,9],[0.55,16],[0.9,18.5],[1.2,19],[1.5,18],[1.9,14],[2.35,9.5],[2.85,7.5],[3.5,7],[7.1,6.8],[7.3,5],[7.42,0],[14.5,0],[14.65,9],[14.95,16],[15.3,19],[15.6,18],[16.0,14],[16.5,9.5],[17.1,7],[18.2,6],[20,5],[21.5,4]];
const MUf2_B_line = [[0,0],[0.1,0],[0.28,10],[0.6,17.5],[0.95,20.5],[1.25,21],[1.55,20],[1.95,15],[2.4,10],[2.9,7.8],[3.5,7.3],[7.1,7],[7.3,5],[7.45,0],[14.5,0],[14.68,10],[15.0,17.5],[15.35,21],[15.65,20],[16.05,15],[16.55,10],[17.1,7.5],[18.2,6.5],[20,5.4],[21.5,4.5]];
const MUf2_C = [[0,0],[0.1,0],[0.25,9],[0.55,15.5],[0.9,17.5],[1.2,18],[1.5,17],[1.9,13.5],[2.35,9.5],[2.85,7.5],[3.5,7],[7.0,6.8],[7.2,5],[7.32,0],[14.5,0],[14.65,9],[14.95,15.5],[15.4,18],[15.7,17],[16.1,13.5],[16.6,9],[17.2,6.5],[18.2,5],[20,4],[21.5,3]];
const MUf2_C_line = [[0,0],[0.1,0],[0.28,10],[0.6,17.5],[0.95,20.5],[1.25,21],[1.55,20],[1.95,15],[2.4,10],[2.9,7.8],[3.5,7.3],[7.0,7],[7.2,5],[7.35,0],[14.5,0],[14.68,10],[15.0,17.5],[15.4,21],[15.7,20],[16.1,15],[16.6,10],[17.2,7.5],[21.5,7]];

const MUf3_A = [[0,0],[0.1,0],[0.3,8],[0.6,13],[1.0,16],[1.5,17],[2.0,16],[2.8,13],[3.8,10],[5.0,7],[6.3,5],[7.0,4.5],[7.2,3],[7.3,0],[14.3,0],[14.45,4],[14.8,7.5],[15.3,9],[15.9,8],[17,6],[18.5,4.5],[20.5,3.2],[21.1,2.5],[21.25,0],[28,0]];
const MUf3_A_line = [[0,0],[0.1,0],[0.3,9],[0.65,15],[1.05,18.5],[1.5,20],[3,17.6],[5,14.4],[7,11.2],[9,8],[11,4.8],[13,1.6],[14.0,0.3],[14.3,0.3],[14.45,4.5],[14.8,8.5],[15.3,10],[17,8.7],[19,7.2],[21,5.7],[23,4.2],[25,2.7],[28,1]];
const MUf3_B = [[0,0],[0.1,0],[0.3,9],[0.65,15],[1.1,19],[1.6,20],[2.2,19],[3,17],[4,14],[5,11],[6.2,8],[7.0,5.5],[7.3,4],[7.45,0],[14.5,0],[14.65,9],[15.0,15],[15.45,19],[15.9,20],[16.5,19],[17.3,17],[18.3,14],[19.3,11],[20.5,7],[21.5,4.5]];
const MUf3_B_line = [[0,0],[0.1,0],[0.3,9.5],[0.65,16],[1.1,20],[1.6,21],[3,18],[5,13.5],[7.0,6.5],[7.3,5],[7.45,0],[14.5,0],[14.65,9.5],[15.0,16],[15.45,20],[15.9,21],[17.3,18],[19.3,13.5],[21.5,6]];
const MUf3_C = [[0,0],[0.1,0],[0.3,8.5],[0.65,14],[1.1,17],[1.6,18],[2.3,17],[3.2,15],[4.2,12.5],[5.3,10],[6.4,7.5],[7.1,5.5],[7.3,3],[7.4,0],[14.55,0],[14.7,9],[15.0,15],[15.3,17.5],[15.6,18],[16.0,17],[16.4,14],[16.7,8],[16.85,2],[16.95,0],[21.5,0]];
const MUf3_C_line = [[0,0],[0.1,0],[0.3,9.5],[0.65,16],[1.1,20],[1.6,21],[3,18],[5,13.5],[7.0,7],[7.3,5],[7.45,0],[14.55,0],[14.7,9.5],[15.05,16],[15.4,19.5],[15.8,20.5],[17,17],[19,10.8],[21.5,3.5]];

const MUf4_A = [[0,0],[0.3,0],[0.42,7],[0.65,14],[0.95,18.5],[1.3,20],[1.65,19],[1.95,14.5],[2.25,8],[2.42,3],[2.5,0],[14.4,0],[14.5,4],[14.72,7.5],[14.95,9.5],[15.2,10],[15.5,9],[15.8,6],[16.1,2],[16.3,0],[28,0]];
const MUf4_A_line = [[0,0],[0.3,0],[0.44,9],[0.7,17],[1.0,21.5],[1.3,23],[1.7,21.5],[2.0,16],[2.3,9],[2.48,3],[2.58,0],[14.4,0],[14.52,4.5],[14.75,8.5],[15.0,10.5],[15.25,11],[15.55,10],[15.85,6.5],[16.15,2],[16.35,0],[28,0]];
const MUf4_B = [[0,0],[0.3,0],[0.42,7],[0.65,14],[0.9,18.5],[1.2,20],[1.55,19],[1.85,14.5],[2.15,8],[2.32,3],[2.42,0],[14.6,0],[14.72,7],[14.95,14],[15.2,18.5],[15.5,20],[15.85,19],[16.15,14.5],[16.45,8],[16.62,3],[16.72,0],[21.5,0]];
const MUf4_B_line = [[0,0],[0.3,0],[0.44,9],[0.7,17],[0.95,21.5],[1.2,23],[1.6,21.5],[1.9,16],[2.2,9],[2.38,3],[2.5,0],[14.6,0],[14.74,9],[15.0,17],[15.25,21.5],[15.5,23],[15.9,21.5],[16.2,16],[16.5,9],[16.68,3],[16.8,0],[21.5,0]];
const MUf4_C = [[0,0],[0.4,0],[0.52,7],[0.75,13.5],[1.05,17.5],[1.4,19],[1.75,18],[2.05,14],[2.35,8],[2.52,3],[2.62,0],[14.6,0],[14.72,7],[14.95,13.5],[15.2,17.5],[15.5,19],[15.85,18],[16.15,14],[16.45,8],[16.65,4],[17.0,2.5],[17.3,0],[21.5,0]];
const MUf4_C_line = [[0,0],[0.4,0],[0.54,8],[0.8,16],[1.1,20.5],[1.4,22],[1.8,20.5],[2.1,15.5],[2.4,8.5],[2.58,3],[2.7,0],[14.6,0],[14.74,8],[15.0,16],[15.25,20.5],[15.5,22],[15.9,20.5],[16.2,15.5],[16.5,8.5],[16.7,3],[16.82,0],[21.5,0]];

const MUe1_A = [[0,0],[0.02,10],[0.3,10],[0.35,0.5],[7.3,0.5],[7.4,0],[7.45,8],[7.65,15],[8.0,20],[8.5,21.7],[13.7,19.3],[13.95,17],[14.15,9],[14.3,0],[21.3,0],[21.4,5],[21.8,10],[22.5,12.7],[23.5,11.5],[28,11]];
const MUe1_A_line = [[0,23],[0.1,15],[0.2,7],[0.4,2],[0.8,0.5],[7.35,0.5],[7.45,8],[7.67,15.5],[8.0,21],[8.5,22.7],[13.5,22.7],[13.8,20.5],[14.05,12],[14.25,0],[21.3,0],[21.42,5.5],[21.85,10.5],[22.5,12.5],[23.5,12],[28,12]];
const MUe1_B = [[0,0],[0.02,21],[0.2,15],[0.4,3],[0.5,0],[7.5,0],[7.56,8],[7.8,15],[8.15,20],[8.6,21.7],[14.0,19],[14.3,15],[14.5,5],[14.6,0],[14.7,8],[14.95,15],[15.4,21.5],[16,21.7],[21.5,19]];
const MUe1_B_line = [[0,0],[0.02,20],[0.2,14],[0.4,3],[0.6,0.5],[7.5,0.5],[7.58,8],[7.82,15.5],[8.17,20.5],[8.6,22.3],[13.9,22.1],[14.2,19],[14.45,10],[14.6,1],[14.72,9],[14.98,16],[15.4,22],[16,22.3],[21.5,21.8]];
const MUe1_C = [[0,0],[0.05,2],[0.3,2],[0.5,0.3],[7.55,0.3],[7.6,0],[7.65,8],[7.85,15],[8.2,20],[8.6,21.7],[14.2,19],[14.35,14],[14.45,5],[14.5,0],[14.8,0],[14.85,8],[15.1,14],[15.5,18],[15.8,19],[16.2,17],[16.8,10],[17.1,7],[17.3,5],[17.5,3.3],[21.5,3.3]];
const MUe1_C_line = [[0,0],[0.05,18],[0.2,10],[0.35,3],[0.5,0.5],[7.55,0.5],[7.65,8],[7.87,15.5],[8.2,20.5],[8.6,22.3],[14.0,22],[14.25,18],[14.45,9],[14.6,3],[14.8,10],[15.1,17],[15.45,21],[15.8,22],[21.5,22]];

const MUe2_A = [[0,0],[0.02,2],[0.3,1],[0.5,0.3],[7.35,0.3],[7.4,0],[7.45,7],[7.7,13.5],[8.1,17],[8.4,17.7],[8.8,16],[9.3,12.5],[10.1,10],[12,9],[13.7,7.7],[14.0,6.5],[14.2,3],[14.3,0],[21.3,0],[21.4,4],[21.75,9.5],[22.3,12.3],[22.8,11],[23.6,7],[24.5,4.3],[28,4.3]];
const MUe2_A_line = [[0,10],[0.1,6],[0.25,3],[0.5,1],[0.9,0.4],[7.38,0.4],[7.45,7],[7.72,15],[8.15,21.5],[8.55,23.3],[9.0,21],[9.5,15.5],[10.1,11],[12,10],[13.7,9],[14.0,7],[14.22,3],[14.32,0],[21.3,0],[21.42,4.5],[21.78,10],[22.3,12.7],[22.8,11.5],[23.6,7.5],[24.5,4.7],[28,4.7]];
const MUe2_B = [[0,0],[0.02,8],[0.2,5],[0.4,1.5],[0.6,0],[7.5,0],[7.56,7],[7.8,14],[8.2,17.5],[8.5,18.3],[8.9,16.5],[9.4,12],[10.1,8.3],[12,7.5],[14.2,6.7],[14.45,4],[14.6,0],[14.7,7],[14.95,14],[15.3,17.5],[15.6,18.3],[16.0,16.5],[16.5,12],[17.1,8.3],[19,7.8],[21.5,7.7]];
const MUe2_B_line = [[0,0],[0.02,8],[0.2,5],[0.4,1.5],[0.6,0.3],[7.5,0.3],[7.58,7],[7.82,15],[8.22,20.5],[8.55,21.7],[8.95,19.5],[9.45,13.5],[10.1,9],[12,8],[14.2,7],[14.45,4],[14.6,0.5],[14.72,7],[14.97,15],[15.32,20.5],[15.6,21.7],[16.0,19.5],[16.5,13.5],[17.1,9],[19,8.3],[21.5,8]];
const MUe2_C = [[0,0],[0.05,2],[0.5,2],[1.0,1.5],[1.3,0],[7.55,0],[7.6,7],[7.85,13.5],[8.25,16.8],[8.5,17.3],[8.9,15.5],[9.4,11],[10.1,7.3],[12,7.3],[14.2,7.3],[14.4,4],[14.5,0],[14.8,0],[14.85,8],[15.0,14],[15.3,15],[16.3,15],[16.4,8],[16.45,1],[21.5,1]];
const MUe2_C_line = [[0,18],[0.1,10],[0.25,4],[0.5,1],[1,0.4],[7.55,0.4],[7.62,7],[7.87,15],[8.25,19.7],[8.55,21],[8.95,19],[9.45,13],[10.1,8.5],[12,8],[14.2,7.8],[14.4,4],[14.55,1],[14.75,6],[15.1,15],[15.45,20.5],[15.7,21.7],[16.1,19],[16.5,13],[16.9,8.3],[21.5,8.3]];

const MUe3_A = [[0,0],[0.02,3],[0.5,2.5],[1.2,1.5],[2,0],[7.4,0],[7.45,7],[7.75,14],[8.15,19],[8.5,20],[9.0,18],[9.5,14],[10.1,12],[11.5,11],[12.6,9.3],[13.2,8.5],[13.6,6],[13.9,3],[14.0,0],[21.3,0],[21.4,4],[21.75,10],[22.3,14.3],[22.8,13],[23.6,9],[24.4,6],[26,5],[28,4]];
const MUe3_A_line = [[0,0],[0.02,2],[0.5,1.5],[1,0.5],[7.38,0.5],[7.45,7],[7.75,15],[8.2,21],[8.7,23.3],[13.7,6],[13.9,2],[14.05,0.3],[21.3,0.3],[21.42,4],[21.75,9],[22.3,11.7],[28,4.3]];
const MUe3_B = [[0,0],[0.02,2],[0.5,1.5],[1.5,1],[2.1,0],[7.5,0],[7.56,7],[7.85,14],[8.3,19.5],[8.8,20.7],[9.4,17.5],[10.1,13.3],[12,10.5],[14.0,7.3],[14.4,4],[14.6,0],[14.7,7],[15.0,14],[15.3,19.5],[15.6,20.7],[16.3,17.5],[17.1,13.3],[19,10],[21.2,6],[21.5,5.5]];
const MUe3_B_line = [[0,0],[0.02,2],[0.5,1.5],[1.5,1],[2.1,0.3],[7.5,0.3],[7.58,7],[7.88,15],[8.33,20],[8.8,21.3],[14.0,6.7],[14.4,3.5],[14.6,0.5],[14.72,7],[15.02,15],[15.32,20],[15.6,21.3],[21.2,6.7],[21.5,6]];
const MUe3_C = [[0,0],[0.05,1.5],[1,1],[1.5,0],[7.55,0],[7.6,7],[7.85,13.5],[8.2,19],[8.5,20],[9.0,17.5],[9.6,14.5],[10.1,13],[12,10],[14.3,6.7],[14.45,3],[14.55,0],[14.75,0],[14.8,7],[15.0,14],[15.3,18],[15.8,19.3],[16.3,18.5],[16.7,14],[16.85,7],[16.95,0],[21.5,0]];
const MUe3_C_line = [[0,0],[0.05,1.5],[1,1],[1.5,0.3],[7.55,0.3],[7.62,7],[7.87,14.5],[8.22,20],[8.5,21.3],[14.3,6.7],[14.45,3.5],[14.6,1],[14.8,8],[15.1,15.5],[15.45,20],[15.8,21.3],[21.0,7.3],[21.5,6]];

const MUe4_A = [[0,0],[0.02,1],[1.5,1],[2.0,0],[7.4,0],[7.5,7],[7.7,14],[7.95,18],[8.2,19],[8.8,18.5],[9.1,14],[9.3,7],[9.4,2],[9.6,0.5],[14.5,0.5],[15,0],[21.3,0],[21.42,3],[21.7,7],[22.0,10],[22.3,11.3],[22.6,10.5],[22.95,6],[23.25,2],[23.4,0],[28,0]];
const MUe4_A_line = [[0,0],[0.02,1],[1.5,1],[2.0,0.5],[7.38,0.5],[7.48,8],[7.7,16],[7.95,21.5],[8.3,24],[8.7,22],[9.05,17],[9.3,9],[9.5,3],[9.7,1],[14,0.5],[21.3,0.5],[21.44,3.5],[21.72,8],[22.02,11],[22.3,12.3],[22.65,11],[23.0,6.5],[23.3,2],[23.5,0.5],[28,0.5]];
const MUe4_B = [[0,0],[7.56,0],[7.66,7],[7.9,13.5],[8.2,17.5],[8.5,18.3],[8.85,17],[9.15,13],[9.4,6],[9.55,1.5],[9.65,0],[14.6,0],[14.7,7],[14.95,13.5],[15.25,17.5],[15.55,18.3],[15.9,17],[16.2,13],[16.45,6],[16.65,1.5],[16.8,0],[21.5,0]];
const MUe4_B_line = [[0,0.3],[7.56,0.3],[7.68,8],[7.92,16],[8.22,21],[8.5,22.3],[8.9,20.5],[9.2,15.5],[9.45,7],[9.62,1.5],[9.75,0.3],[14.6,0.3],[14.72,8],[14.97,16],[15.27,21],[15.55,22.3],[15.95,20.5],[16.25,15.5],[16.5,7],[16.7,1.5],[16.85,0.3],[21.5,0.3]];
const MUe4_C = [[0,0],[7.6,0],[7.7,7],[7.95,13],[8.25,17],[8.5,17.7],[8.9,16.5],[9.2,12.5],[9.5,6],[9.7,1.5],[9.8,0],[14.8,0],[14.9,7],[15.1,13],[15.4,17],[15.7,17.3],[16.05,16],[16.3,11],[16.5,5],[16.65,1],[16.7,0],[21.5,0]];
const MUe4_C_line = [[0,0.3],[7.6,0.3],[7.72,8],[7.97,15.5],[8.27,20.5],[8.5,21.7],[8.9,20],[9.25,15],[9.55,7],[9.75,1.5],[9.85,0.3],[14.7,0.3],[14.82,8],[15.07,15.5],[15.37,20.5],[15.7,21.7],[16.05,20],[16.35,15],[16.6,7],[16.8,1.5],[16.9,0.3],[21.5,0.3]];

// ---------- lookup tables built from the arrays ----------
const recorded = {
  Sf:[Sf_A,Sf_B,Sf_C], Df:[Df_A,Df_B,Df_C], Se:[Se_A,Se_B,Se_C], De:[De_A,De_B,De_C], Tf:[Tf_A,Tf_B,Tf_C], Te:[Te_A,Te_B,Te_C],
  CMt1:[CMt1_A,CMt1_B,CMt1_C], CMt2:[CMt2_A,CMt2_B,CMt2_C], CMt3:[CMt3_A,CMt3_B,CMt3_C], CMt4:[CMt4_A,CMt4_B,CMt4_C],
  RMt1:[RMt1_A,RMt1_B,RMt1_C], RMt2:[RMt2_A,RMt2_B,RMt2_C], RMt3:[RMt3_A,RMt3_B,RMt3_C], RMt4:[RMt4_A,RMt4_B,RMt4_C], RMt5:[RMt5_A,RMt5_B,RMt5_C],
  SPf1:[SPf1_A,SPf1_B,SPf1_C], SPf2:[SPf2_A,SPf2_B,SPf2_C], SPf3:[SPf3_A,SPf3_B,SPf3_C],
  SPe1:[SPe1_A,SPe1_B,SPe1_C], SPe2:[SPe2_A,SPe2_B,SPe2_C], SPe3:[SPe3_A,SPe3_B,SPe3_C],
  MUf1:[MUf1_A,MUf1_B,MUf1_C], MUf2:[MUf2_A,MUf2_B,MUf2_C], MUf3:[MUf3_A,MUf3_B,MUf3_C], MUf4:[MUf4_A,MUf4_B,MUf4_C],
  MUe1:[MUe1_A,MUe1_B,MUe1_C], MUe2:[MUe2_A,MUe2_B,MUe2_C], MUe3:[MUe3_A,MUe3_B,MUe3_C], MUe4:[MUe4_A,MUe4_B,MUe4_C]
};
const traced = {
  CMt1:[CMt1_A_line,CMt1_B_line,CMt1_C_line], CMt2:[CMt2_A_line,CMt2_B_line,CMt2_C_line], CMt3:[CMt3_A_line,CMt3_B_line,CMt3_C_line], CMt4:[CMt4_A_line,CMt4_B_line,CMt4_C_line],
  RMt1:[RMt1_A_line,RMt1_B_line,RMt1_C_line], RMt2:[RMt2_A_line,RMt2_B_line,RMt2_C_line], RMt3:[RMt3_A_line,RMt3_B_line,RMt3_C_line], RMt4:[RMt4_A_line,RMt4_B_line,RMt4_C_line], RMt5:[RMt5_A_line,RMt5_B_line,RMt5_C_line],
  SPf1:[SPf1_A_line,SPf1_B_line,SPf1_C_line], SPf2:[SPf2_A_line,SPf2_B_line,SPf2_C_line], SPf3:[SPf3_A_line,SPf3_B_line,SPf3_C_line],
  SPe1:[SPe1_A_line,SPe1_B_line,SPe1_C_line], SPe2:[SPe2_A_line,SPe2_B_line,SPe2_C_line], SPe3:[SPe3_A_line,SPe3_B_line,SPe3_C_line],
  MUf1:[MUf1_A_line,MUf1_B_line,MUf1_C_line], MUf2:[MUf2_A_line,MUf2_B_line,MUf2_C_line], MUf3:[MUf3_A_line,MUf3_B_line,MUf3_C_line], MUf4:[MUf4_A_line,MUf4_B_line,MUf4_C_line],
  MUe1:[MUe1_A_line,MUe1_B_line,MUe1_C_line], MUe2:[MUe2_A_line,MUe2_B_line,MUe2_C_line], MUe3:[MUe3_A_line,MUe3_B_line,MUe3_C_line], MUe4:[MUe4_A_line,MUe4_B_line,MUe4_C_line]
};

// ---------- layout ----------
const colLeft = [67, 406, 679];
const colWidth = [304, 244, 244];
const titleX = [218, 530, 800];
const panelH = 30;
const rows = [];
phaseRows.forEach((n, i) => rows.push({ name: n, base: 75 + i * 39.4, labelY: 68 + i * 39.4 }));
muscleRows.forEach((n, j) => rows.push({ name: n, base: 324 + j * 39.64, labelY: 317 + j * 39.23 }));

const grid = [], xAxis = [], yAxis = [], series = [], graphic = [];
let gi = 0;
rows.forEach((r) => {
  graphic.push({ type: 'text', x: 12, y: r.labelY,
    style: { text: r.name, fill: '#000', font: '17px "Liberation Sans", Arial, sans-serif', verticalAlign: 'middle', align: 'left' } });
  for (let c = 0; c < 3; c++) {
    grid.push({ left: colLeft[c], width: colWidth[c], top: r.base - panelH, height: panelH });
    xAxis.push({ gridIndex: gi, type: 'value', min: 0, max: xMax[c], interval: 1,
      axisLine: { show: true, onZero: false, lineStyle: { color: '#666', width: 1 } },
      axisTick: { show: true, length: 4, lineStyle: { color: '#888', width: 1 } },
      axisLabel: { show: false }, splitLine: { show: false } });
    yAxis.push({ gridIndex: gi, type: 'value', min: 0, max: yMax,
      axisLine: { show: true, lineStyle: { color: '#999', width: 1 } },
      axisTick: { show: false }, axisLabel: { show: false }, splitLine: { show: false } });
    series.push({ type: 'line', xAxisIndex: gi, yAxisIndex: gi, data: recorded[r.name][c],
      symbol: 'none', silent: true, z: 2,
      lineStyle: { width: 0, opacity: 0 }, areaStyle: { color: '#000', opacity: 1 } });
    if (traced[r.name]) {
      series.push({ type: 'line', xAxisIndex: gi, yAxisIndex: gi, data: traced[r.name][c],
        symbol: 'none', silent: true, z: 3,
        lineStyle: { color: '#aaaaaa', width: 1.2 } });
    }
    gi++;
  }
});
columnNames.forEach((t, c) => {
  graphic.push({ type: 'text', x: titleX[c], y: 25,
    style: { text: t, fill: '#000', font: 'bold 28px "Liberation Sans", Arial, sans-serif', verticalAlign: 'middle', align: 'center' } });
});

const chart = echarts.init(document.getElementById('c'), null, { renderer: 'canvas' });
chart.setOption({ animation: false, backgroundColor: '#fff', grid, xAxis, yAxis, series, graphic });
</script>
</body></html>
